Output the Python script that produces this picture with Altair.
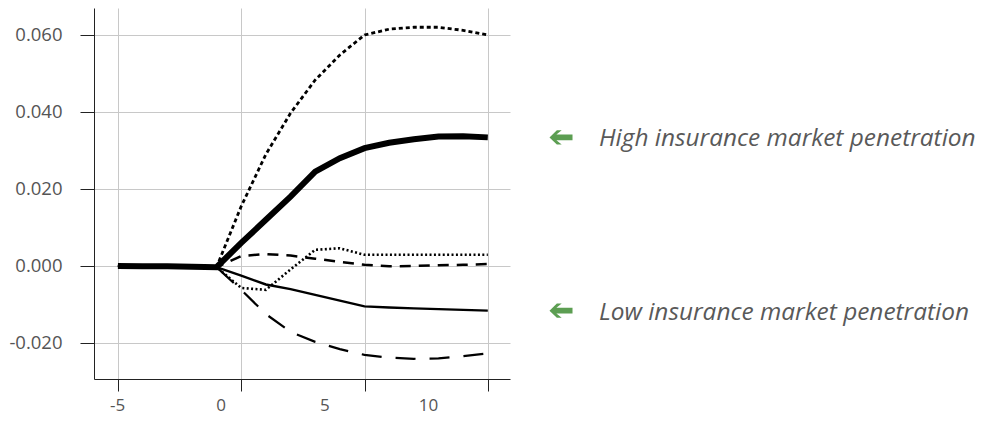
import altair as alt
import pandas as pd

# ---- data ----
periods = list(range(-5, 11))
pre = [0.0, -0.0001, -0.0001, -0.0002, -0.0003]  # periods -5 .. -1

high_est = pre + [0.0060, 0.0120, 0.0180, 0.0245, 0.0280, 0.0306, 0.0320, 0.0329, 0.0336, 0.0337, 0.0334]
high_upper = pre + [0.0155, 0.0290, 0.0397, 0.0483, 0.0548, 0.0600, 0.0615, 0.0620, 0.0620, 0.0612, 0.0600]
high_lower = pre + [-0.0057, -0.0062, -0.0009, 0.0042, 0.0046, 0.0029, 0.0029, 0.0029, 0.0029, 0.0029, 0.0029]
low_est = pre + [-0.0025, -0.0048, -0.0060, -0.0075, -0.0090, -0.0105, -0.0108, -0.0110, -0.0112, -0.0114, -0.0116]
low_upper = pre + [0.0026, 0.0031, 0.0027, 0.0019, 0.0011, 0.0003, -0.0001, 0.0000, 0.0002, 0.0003, 0.0005]
low_lower = pre + [-0.0062, -0.0125, -0.0171, -0.0197, -0.0216, -0.0231, -0.0238, -0.0241, -0.0240, -0.0234, -0.0227]

series_names = ["High upper", "High lower", "Low upper", "Low lower", "Low estimate", "High estimate"]
series_values = [high_upper, high_lower, low_upper, low_lower, low_est, high_est]

x_tick_values = [-5, 0, 5, 10]
y_tick_values = [-0.02, 0.0, 0.02, 0.04, 0.06]
annotation_labels = ["High insurance market penetration", "Low insurance market penetration"]

# ---- tables ----
rows = []
for name, vals in zip(series_names, series_values):
    for p, v in zip(periods, vals):
        rows.append({"series": name, "period": p, "value": v})
df = pd.DataFrame(rows)

label_df = pd.DataFrame({"tick": x_tick_values})
ann_df = pd.DataFrame({"label": annotation_labels, "value": [high_est[-1], low_est[-1]]})

# ---- styles ----
styles = {
    "High upper": dict(strokeDash=[4, 3], strokeWidth=2.8),
    "High lower": dict(strokeDash=[2, 2.4], strokeWidth=2.6),
    "Low upper": dict(strokeDash=[11, 8], strokeWidth=2.5),
    "Low lower": dict(strokeDash=[20, 14], strokeWidth=2.2),
    "Low estimate": dict(strokeWidth=2.4),
    "High estimate": dict(strokeWidth=6),
}
grid_col = "#c8c8c8"
axis_col = "#222222"
label_col = "#555555"
minus_fix = "replace(datum.label, '\u2212', '-')"

x_scale = alt.Scale(domain=[-5.97, 10.9], nice=False, zero=False)
x_axis = alt.Axis(values=x_tick_values, labels=False, tickSize=12, tickColor=axis_col,
                  domainColor=axis_col, gridColor=grid_col, grid=True, title=None,
                  orient="bottom")
y_scale = alt.Scale(domain=[-0.02935, 0.067], nice=False, zero=False)
y_axis = alt.Axis(values=y_tick_values, format=".3f", labelExpr=minus_fix, title=None,
                  tickSize=14, tickColor=axis_col, domainColor=axis_col, labelPadding=18,
                  labelFontSize=18.5, labelColor=label_col, labelFont="Open Sans",
                  gridColor=grid_col, grid=True)

line_layers = []
for name in series_names:
    line_layers.append(
        alt.Chart(df).transform_filter(alt.datum.series == name)
        .mark_line(color="black", strokeCap="butt", **styles[name])
        .encode(
            x=alt.X("period:Q", scale=x_scale, axis=x_axis),
            y=alt.Y("value:Q", scale=y_scale, axis=y_axis),
        )
    )
lines = alt.layer(*line_layers)

labels = alt.Chart(label_df).mark_point(opacity=0).encode(
    x=alt.X("tick:Q", scale=alt.Scale(domain=[-6.11, 13.96], nice=False, zero=False),
            axis=alt.Axis(values=x_tick_values, ticks=False, domain=False, grid=False,
                          labelExpr=minus_fix, labelFontSize=17, labelColor=label_col,
                          labelFont="Open Sans", labelPadding=18, title=None,
                          orient="bottom")),
)

arrow_path = ("M -1 0 L -0.36 -0.62 L 0.06 -0.62 L -0.4 -0.25 L 1 -0.25 "
              "L 1 0.25 L -0.4 0.25 L 0.06 0.62 L -0.36 0.62 Z")
arrows = alt.Chart(ann_df).mark_point(shape=arrow_path, filled=True, size=530,
                                      color="#5c9e52", opacity=1, strokeWidth=0).encode(
    x=alt.value(467),
    y=alt.Y("value:Q", scale=y_scale, axis=y_axis),
)

texts = alt.Chart(ann_df).mark_text(align="left", baseline="alphabetic", font="Open Sans",
                                    fontStyle="italic", fontSize=24.4, color="#595959",
                                    dy=9).encode(
    x=alt.value(505),
    y=alt.Y("value:Q", scale=y_scale, axis=y_axis),
    text="label:N",
)

chart = alt.layer(lines, labels, arrows, texts).resolve_scale(x="independent").properties(
    width=416, height=371, autosize="none",
    padding={"left": 86, "top": 0, "right": 466, "bottom": 35},
).configure_view(stroke=None)

chart.save("out.html", embed_options={"renderer": "svg", "actions": False})
